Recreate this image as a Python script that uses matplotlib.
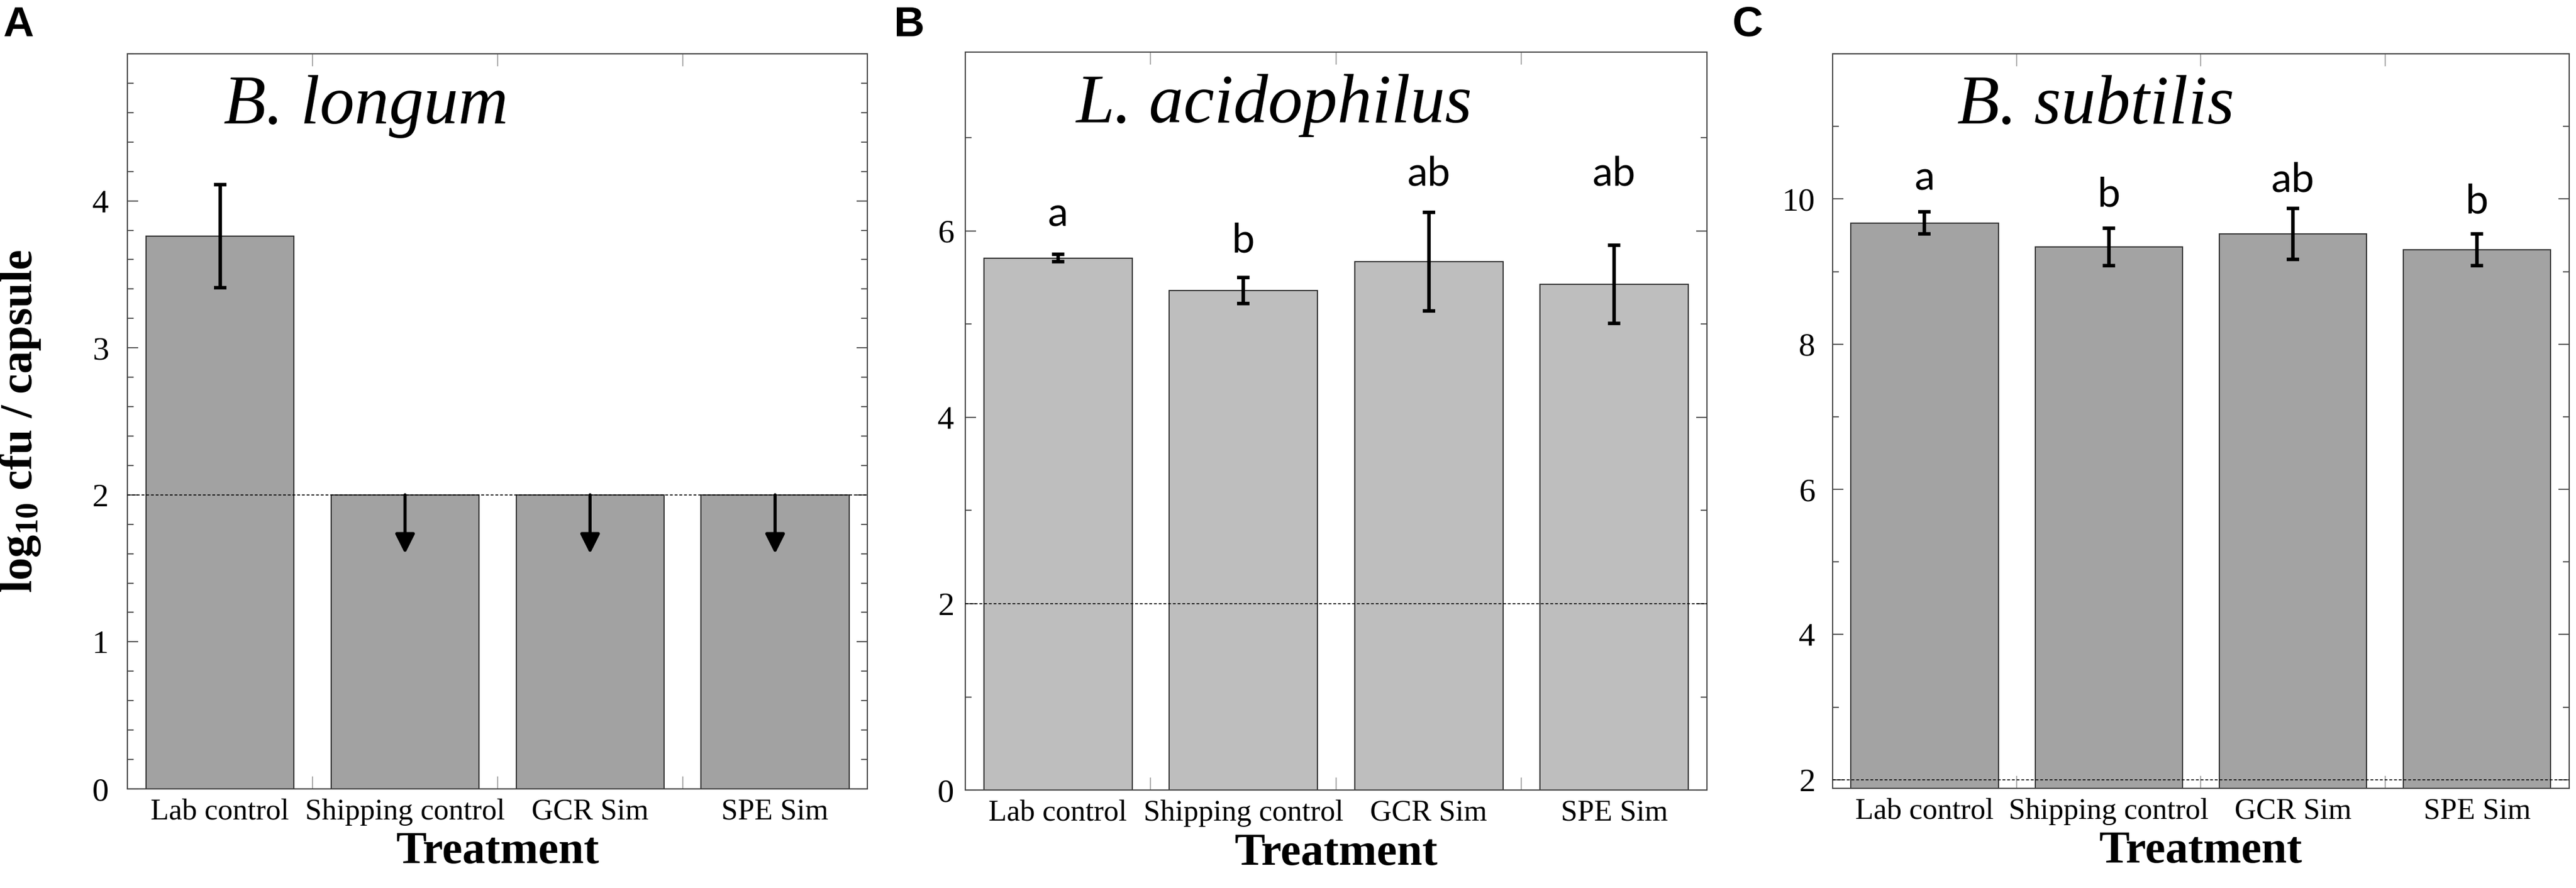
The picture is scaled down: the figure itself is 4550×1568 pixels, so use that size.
import numpy as np
import matplotlib
matplotlib.use('Agg')
import matplotlib.pyplot as plt
from matplotlib.ticker import MultipleLocator

#
# Data (log10 cfu / capsule)
#
treatments = ['Lab control', 'Shipping control', 'GCR Sim', 'SPE Sim']
detect_limit = 2.0

longum_mean = [3.76, 2.0, 2.0, 2.0]
longum_err = [0.35, 0.0, 0.0, 0.0]
longum_below = [False, True, True, True]

acid_mean = [5.71, 5.36, 5.67, 5.43]
acid_err = [0.04, 0.14, 0.53, 0.42]
acid_letters = ['a', 'b', 'ab', 'ab']
acid_letter_y = [6.05, 5.77, 6.49, 6.49]

subt_mean = [9.67, 9.34, 9.52, 9.30]
subt_err = [0.15, 0.26, 0.35, 0.22]
subt_letters = ['a', 'b', 'ab', 'b']
subt_letter_y = [10.12, 9.90, 10.10, 9.80]

#
# Fonts
#
plt.rcParams['font.family'] = 'Liberation Serif'
plt.rcParams['mathtext.fontset'] = 'custom'
plt.rcParams['mathtext.rm'] = 'Liberation Serif'
plt.rcParams['mathtext.bf'] = 'Liberation Serif:bold'
plt.rcParams['mathtext.default'] = 'bf'

W, H = 4550, 1568
fig = plt.figure(figsize=(W / 100, H / 100), dpi=100)
axA = fig.add_axes([0.0495, 0.1116, 0.2873, 0.8278])
axB = fig.add_axes([0.3747, 0.1103, 0.2879, 0.8310])
axC = fig.add_axes([0.7114, 0.1122, 0.2859, 0.8272])

x = np.arange(len(treatments))


def draw_panel(ax, mean, err, color, ylim, major, minor, title, title_x, ypad):
    ax.bar(x, mean, width=0.8, color=color, edgecolor='#333333', linewidth=1.5, zorder=2)
    err = np.array(err)
    keep = err > 0
    ax.errorbar(x[keep], np.array(mean)[keep], yerr=err[keep], fmt='none', ecolor='k',
                elinewidth=4.5, capsize=8, capthick=4.5, zorder=4)
    ax.axhline(detect_limit, color='k', lw=1.2, ls=(0, (3, 2)), zorder=3)

    ax.set_xlim(-0.5, len(treatments) - 0.5)
    ax.set_ylim(*ylim)

    # ticks on the category boundaries, labels at the bar centres
    ax.set_xticks(x[:-1] + 0.5)
    ax.set_xticklabels([])
    ax.set_xticks(x, minor=True)
    ax.set_xticklabels(treatments, minor=True, fontsize=38)
    ax.tick_params(axis='x', which='major', direction='in', length=16, width=1.5,
                   color='#aaaaaa', top=True, bottom=True)
    ax.tick_params(axis='x', which='minor', length=0, pad=12)

    ax.set_yticks(major)
    ax.yaxis.set_minor_locator(MultipleLocator(minor))
    ax.tick_params(axis='y', which='both', direction='in', left=True, right=True,
                   color='#555555', width=1.5, labelsize=42, pad=ypad)
    ax.tick_params(axis='y', which='major', length=14)
    ax.tick_params(axis='y', which='minor', length=8)

    for s in ax.spines.values():
        s.set_color('#444444')
        s.set_linewidth(1.5)

    ax.set_xlabel('Treatment', fontsize=58, fontweight='bold')
    ax.xaxis.set_label_coords(0.5, -0.058)
    ax.text(title_x, 0.905, title, transform=ax.transAxes, fontsize=88,
            style='italic', ha='left', va='baseline')


#
# A: B. longum
#
draw_panel(axA, longum_mean, longum_err, '#a2a2a2', (0, 5), [0, 1, 2, 3, 4], 0.2,
           'B. longum', 0.13, 24)
for i, below in enumerate(longum_below):
    if below:
        axA.annotate('', xy=(i, detect_limit - 0.4), xytext=(i, detect_limit),
                     arrowprops=dict(arrowstyle='-|>,head_length=0.7,head_width=0.35',
                                     color='k', lw=4, mutation_scale=30,
                                     shrinkA=0, shrinkB=0), zorder=5)
axA.set_ylabel(r'log$_{10}$ cfu / capsule', fontsize=58, fontweight='bold')
axA.yaxis.set_label_coords(-0.115, 0.5)

#
# B: L. acidophilus
#
draw_panel(axB, acid_mean, acid_err, '#bebebe', (0, 7.92), [0, 2, 4, 6], 1,
           'L. acidophilus', 0.149, 14)
for i, (lab, yy) in enumerate(zip(acid_letters, acid_letter_y)):
    axB.text(i, yy, lab, ha='center', va='baseline', fontsize=52, family='Lato', zorder=6)

#
# C: B. subtilis
#
draw_panel(axC, subt_mean, subt_err, '#a3a3a3', (1.88, 12), [2, 4, 6, 8, 10], 1,
           'B. subtilis', 0.169, 22)
for i, (lab, yy) in enumerate(zip(subt_letters, subt_letter_y)):
    axC.text(i, yy, lab, ha='center', va='baseline', fontsize=52, family='Lato', zorder=6)

#
# Panel letters
#
for lx, letter in [(5, 'A'), (1579, 'B'), (3060, 'C')]:
    fig.text(lx / W, 1 - 10 / H, letter, ha='left', va='top', fontsize=54,
             fontweight='bold', family='Liberation Sans')

fig.savefig('out.png', dpi=100)
